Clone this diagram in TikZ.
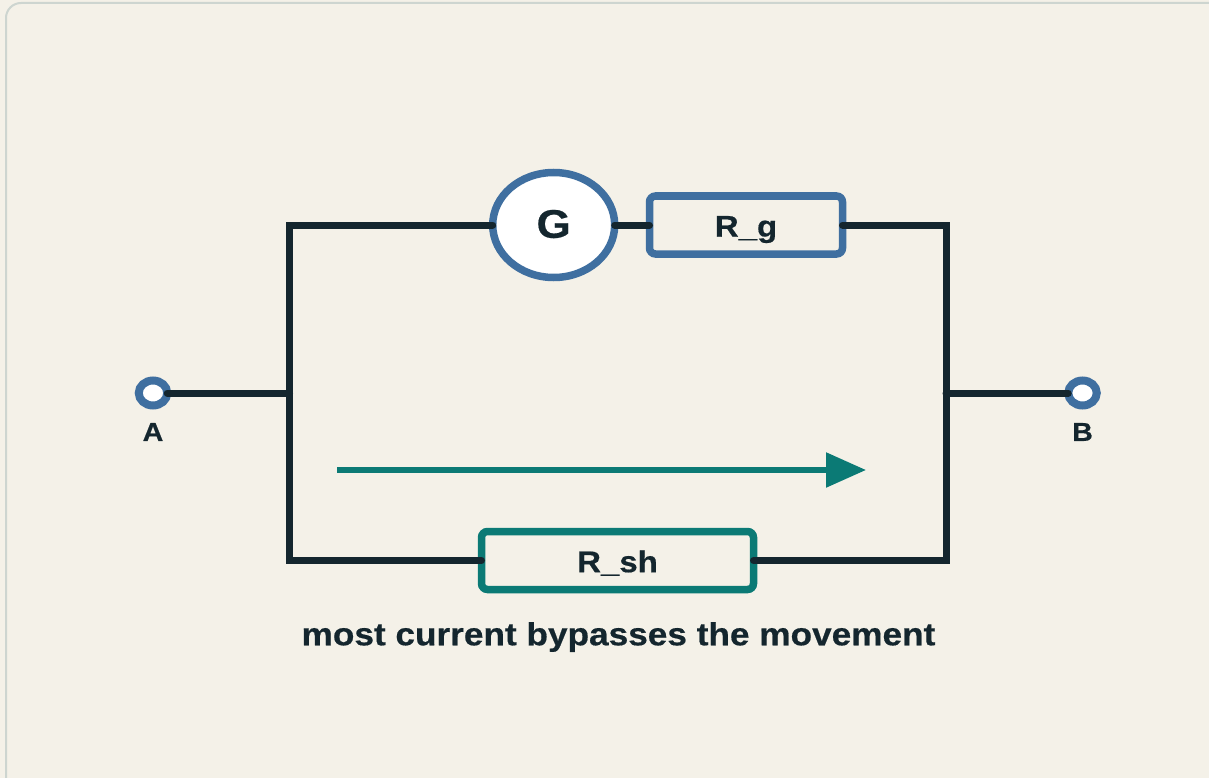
\documentclass[tikz,border=0pt]{standalone}
\usepackage{fontspec}
\setmainfont{Liberation Sans}[BoldFeatures={FakeStretch=1.1,FakeBold=0.5}]
\usetikzlibrary{shapes.geometric,arrows.meta}
\definecolor{paper}{HTML}{F4F1E8}
\definecolor{edgeline}{HTML}{CDD5D0}
\definecolor{ink}{HTML}{14262E}
\definecolor{blueline}{HTML}{3F6FA0}
\definecolor{tealline}{HTML}{0B7A75}
\tikzset{
  x=1pt,y=-1pt,
  meter/.style={ellipse,draw=blueline,fill=white,line width=7.5pt,outer sep=0pt,inner sep=0pt,minimum width=122pt,minimum height=105pt,text=ink,text height=25.6pt,text depth=0pt,font=\bfseries\fontsize{40}{40}\selectfont},
  resbox/.style={rectangle,rounded corners=6pt,line width=7.5pt,outer sep=0pt,inner sep=0pt,text=ink,text height=23.4pt,text depth=0pt,font=\bfseries\fontsize{30}{30}\selectfont},
  terminal/.style={ellipse,draw=blueline,fill=white,line width=8pt,outer sep=0pt,inner sep=0pt,minimum width=28.5pt,minimum height=25pt},
  termlabel/.style={text=ink,inner sep=0pt,font=\bfseries\fontsize{26}{26}\selectfont},
  wire/.style={draw=ink,line width=7pt,line cap=round,line join=miter},
  flow/.style={draw=tealline,line width=5.5pt,-{Triangle[length=40pt,width=34pt]}}
}
\begin{document}
\begin{tikzpicture}
\useasboundingbox (0,0) rectangle (1209,778);
\fill[paper] (0,0) rectangle (1209,778);
\begin{scope}
\clip (0,0) rectangle (1209,778);
\draw[edgeline,line width=2pt,rounded corners=15pt] (6,800) -- (6,3) -- (1240,3);
\end{scope}
\node[meter] (G) at (553.7,225) {G};
\node[resbox,draw=blueline,minimum width=193pt,minimum height=58pt] (Rg) at (746,225) {R\_g};
\node[resbox,draw=tealline,minimum width=272pt,minimum height=58pt] (Rsh) at (617.5,560.5) {R\_sh};
\node[terminal] (A) at (153,393) {};
\node[terminal] (B) at (1082.5,393) {};
\coordinate (TL) at (289.5,225);
\coordinate (BL) at (289.5,560.5);
\coordinate (TR) at (946,225);
\coordinate (BR) at (946,560.5);
\coordinate (ML) at (289.5,393);
\coordinate (MR) at (946,393);
\draw[wire] (G.west) -- (TL) -- (BL) -- (Rsh.west);
\draw[wire] (Rg.east) -- (TR) -- (BR) -- (Rsh.east);
\draw[wire] (G.east) -- (Rg.west);
\draw[wire] (A.east) -- (ML);
\draw[wire] (B.west) -- (MR);
\coordinate (FS) at (337,470);
\coordinate (FE) at (866,470);
\draw[flow] (FS) -- (FE);
\node[termlabel] (LA) at (153,432) {A};
\node[termlabel] (LB) at (1082.5,432) {B};
\node[text=ink,inner sep=0pt,font=\bfseries\fontsize{32}{32}\selectfont] (cap) at (618.5,637) {most current bypasses the movement};
\end{tikzpicture}
\end{document}
